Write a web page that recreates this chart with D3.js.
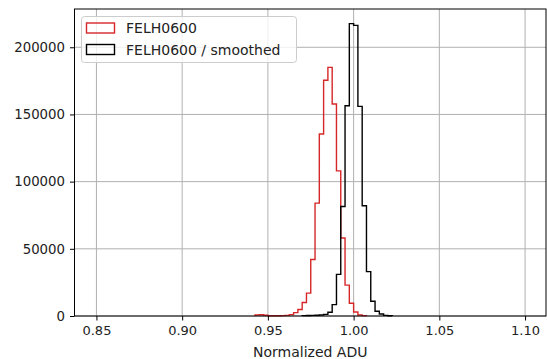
<!DOCTYPE html>
<html>
<head>
<meta charset="utf-8">
<script src="https://cdn.jsdelivr.net/npm/d3@7"></script>
<style>
  html, body { margin: 0; padding: 0; background: #fff; }
  text { font-family: "DejaVu Sans", sans-serif; }
</style>
</head>
<body>
<svg id="chart" width="547" height="359"></svg>
<script>
// ---- data ----
const histRange = [0.85, 1.10];      // histogram range (100 bins)
const binWidth = 0.0025;
const xTicks = [0.85, 0.90, 0.95, 1.00, 1.05, 1.10];
const yTicks = [0, 50000, 100000, 150000, 200000];
const seriesNames = ["FELH0600", "FELH0600 / smoothed"];

// red: raw normalized ADU, first non-empty bin starts at 0.9425
const rawStart = 0.9425;
const rawCounts = [800, 900, 600, 200, 150, 200, 300, 500, 1000, 2500,
                   4800, 10000, 17000, 42000, 84000, 135500, 175500, 185000,
                   157800, 108000, 58000, 23000, 9500, 3000, 800, 300];

// black: smoothed, first non-empty bin starts at 0.97
const smoothStart = 0.97;
const smoothCounts = [300, 400, 500, 600, 800, 1200, 2800, 8500, 31000, 81500,
                      156500, 217600, 216300, 156000, 82000, 33000, 11000, 3500,
                      1500, 500, 200];

const colors = ["#d62728", "#000000"];

// ---- layout ----
const W = 547, H = 359;
const plot = { left: 74.5, right: 546, top: 9, bottom: 316 };

const svg = d3.select("#chart");
svg.append("rect").attr("width", W).attr("height", H).attr("fill", "#fff");

const pad = (histRange[1] - histRange[0]) * 0.05;
const x = d3.scaleLinear()
  .domain([histRange[0] - pad, histRange[1] + pad])
  .range([plot.left + 0.5, plot.right + 0.5]);

const yMax = d3.max(smoothCounts.concat(rawCounts)) * 1.05;
const y = d3.scaleLinear().domain([0, yMax]).range([plot.bottom, plot.top]);

// grid
const grid = svg.append("g");
grid.selectAll(".gx").data(xTicks).enter().append("line")
  .attr("x1", d => x(d)).attr("x2", d => x(d))
  .attr("y1", plot.top).attr("y2", plot.bottom)
  .attr("stroke", "#b0b0b0").attr("stroke-width", 1);
grid.selectAll(".gy").data(yTicks).enter().append("line")
  .attr("x1", plot.left).attr("x2", plot.right)
  .attr("y1", d => y(d)).attr("y2", d => y(d))
  .attr("stroke", "#b0b0b0").attr("stroke-width", 1);

// step histograms
function stepPoints(start, counts) {
  const pts = [[start, 0]];
  counts.forEach((c, i) => {
    const x0 = start + i * binWidth;
    pts.push([x0, c]);
    pts.push([x0 + binWidth, c]);
  });
  pts.push([start + counts.length * binWidth, 0]);
  return pts;
}
const line = d3.line().x(d => x(d[0])).y(d => y(d[1]));
const series = [
  { start: rawStart, counts: rawCounts, color: colors[0] },
  { start: smoothStart, counts: smoothCounts, color: colors[1] }
];
svg.append("g").selectAll("path").data(series).enter().append("path")
  .attr("d", d => line(stepPoints(d.start, d.counts)))
  .attr("fill", "none")
  .attr("stroke", d => d.color)
  .attr("stroke-width", 1.4)
  .attr("stroke-linejoin", "miter");

// spines
svg.append("rect")
  .attr("x", plot.left).attr("y", plot.top)
  .attr("width", plot.right - plot.left).attr("height", plot.bottom - plot.top)
  .attr("fill", "none").attr("stroke", "#000").attr("stroke-width", 1);

// axes
const xAxis = d3.axisBottom(x).tickValues(xTicks).tickFormat(d3.format(".2f"))
  .tickSize(4.5).tickPadding(5);
const gx = svg.append("g").attr("transform", `translate(0,${plot.bottom})`).call(xAxis);
gx.select(".domain").remove();
gx.selectAll("text").attr("font-size", 13).attr("fill", "#222").attr("font-family", "DejaVu Sans");
gx.selectAll("line").attr("stroke", "#000");

const yAxis = d3.axisLeft(y).tickValues(yTicks).tickFormat(d3.format("d"))
  .tickSize(4.5).tickPadding(5);
const gy = svg.append("g").attr("transform", `translate(${plot.left},0)`).call(yAxis);
gy.select(".domain").remove();
gy.selectAll("text").attr("font-size", 13.3).attr("fill", "#222").attr("font-family", "DejaVu Sans");
gy.selectAll("line").attr("stroke", "#000");

// x label
svg.append("text")
  .attr("x", (plot.left + plot.right) / 2).attr("y", 356.5)
  .attr("text-anchor", "middle").attr("font-size", 14).attr("fill", "#222")
  .text("Normalized ADU");

// legend
const lg = svg.append("g");
lg.append("rect")
  .attr("x", 81.5).attr("y", 16.5).attr("width", 215).attr("height", 46)
  .attr("rx", 3).attr("fill", "#fff").attr("fill-opacity", 0.8)
  .attr("stroke", "#cccccc").attr("stroke-width", 1);
seriesNames.forEach((name, i) => {
  const cy = 28 + i * 21.5;
  lg.append("rect")
    .attr("x", 86.5).attr("y", cy - 5).attr("width", 28).attr("height", 10)
    .attr("fill", "none").attr("stroke", colors[i]).attr("stroke-width", 1.4);
  lg.append("text")
    .attr("x", 126).attr("y", cy + 5)
    .attr("font-size", 14).attr("fill", "#222")
    .text(name);
});
</script>
</body>
</html>
